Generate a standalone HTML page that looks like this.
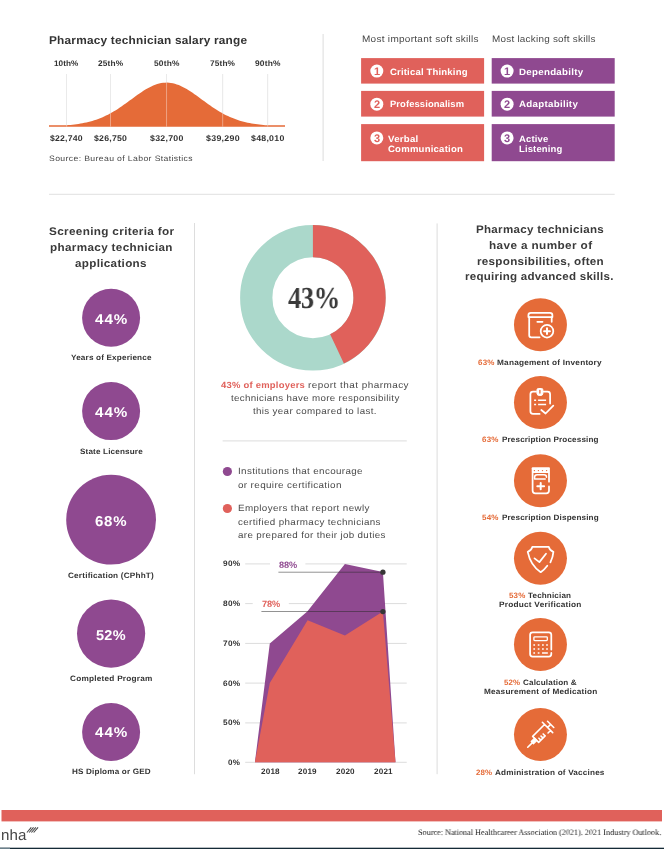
<!DOCTYPE html>
<html><head><meta charset="utf-8"><title>Pharmacy technician infographic</title>
<style>
html,body{margin:0;padding:0;background:#fff;}
body{width:664px;height:849px;position:relative;overflow:hidden;font-family:"Liberation Sans",sans-serif;}
.t{position:absolute;will-change:transform;text-rendering:geometricPrecision;white-space:pre;margin:0;padding:0;}
svg{position:absolute;left:0;top:0;}
</style></head><body>
<svg width="664" height="849" viewBox="0 0 664 849">
<rect x="322.6" y="34" width="1" height="127" fill="#dddddd"/>
<rect x="49" y="193.8" width="565.7" height="1" fill="#e0e0e0"/>
<rect x="194" y="223" width="1" height="551.2" fill="#dddddd"/>
<rect x="436.6" y="223.4" width="1" height="550.8" fill="#dddddd"/>
<rect x="222.6" y="440.4" width="184.2" height="1" fill="#dddddd"/>
<rect x="66.19999999999999" y="74" width="0.8" height="52.7" fill="#d6d6d6"/>
<rect x="110.1" y="74" width="0.8" height="52.7" fill="#d6d6d6"/>
<rect x="166.2" y="74" width="0.8" height="52.7" fill="#d6d6d6"/>
<rect x="222.29999999999998" y="74" width="0.8" height="52.7" fill="#d6d6d6"/>
<rect x="267.3" y="74" width="0.8" height="52.7" fill="#d6d6d6"/>
<path d="M49.0 126.7 L49.0 125.30 L51.0 125.30 L52.9 125.30 L54.9 125.30 L56.9 125.30 L58.8 125.30 L60.8 125.30 L62.8 125.30 L64.7 125.30 L66.7 125.22 L68.7 125.06 L70.6 124.88 L72.6 124.67 L74.6 124.44 L76.5 124.19 L78.5 123.91 L80.5 123.60 L82.4 123.25 L84.4 122.87 L86.4 122.45 L88.3 121.99 L90.3 121.49 L92.3 120.94 L94.2 120.34 L96.2 119.69 L98.2 118.99 L100.1 118.23 L102.1 117.42 L104.1 116.55 L106.0 115.62 L108.0 114.64 L110.0 113.59 L111.9 112.49 L113.9 111.34 L115.9 110.13 L117.8 108.88 L119.8 107.58 L121.8 106.24 L123.7 104.86 L125.7 103.46 L127.7 102.03 L129.6 100.59 L131.6 99.15 L133.6 97.70 L135.5 96.27 L137.5 94.86 L139.5 93.48 L141.4 92.14 L143.4 90.85 L145.4 89.62 L147.3 88.46 L149.3 87.39 L151.3 86.40 L153.2 85.52 L155.2 84.74 L157.2 84.07 L159.1 83.52 L161.1 83.10 L163.1 82.80 L165.0 82.64 L167.0 82.60 L169.0 82.70 L170.9 82.94 L172.9 83.30 L174.9 83.79 L176.8 84.39 L178.8 85.12 L180.8 85.96 L182.7 86.89 L184.7 87.93 L186.7 89.04 L188.6 90.24 L190.6 91.50 L192.6 92.81 L194.5 94.17 L196.5 95.57 L198.5 97.00 L200.4 98.44 L202.4 99.88 L204.4 101.33 L206.3 102.76 L208.3 104.18 L210.3 105.57 L212.2 106.93 L214.2 108.25 L216.2 109.52 L218.1 110.75 L220.1 111.93 L222.1 113.06 L224.0 114.13 L226.0 115.14 L228.0 116.10 L229.9 117.00 L231.9 117.84 L233.9 118.62 L235.8 119.35 L237.8 120.03 L239.8 120.65 L241.7 121.22 L243.7 121.75 L245.7 122.23 L247.6 122.67 L249.6 123.07 L251.6 123.43 L253.5 123.76 L255.5 124.06 L257.5 124.32 L259.4 124.56 L261.4 124.78 L263.4 124.97 L265.3 125.14 L267.3 125.30 L269.3 125.30 L271.2 125.30 L273.2 125.30 L275.2 125.30 L277.1 125.30 L279.1 125.30 L281.1 125.30 L283.0 125.30 L285.0 125.30 L285.0 126.7 Z" fill="#e56b38"/>
<rect x="66.14999999999999" y="74" width="0.9" height="52.7" fill="#fff" opacity="0.42"/>
<rect x="110.05" y="74" width="0.9" height="52.7" fill="#fff" opacity="0.42"/>
<rect x="166.15" y="74" width="0.9" height="52.7" fill="#fff" opacity="0.42"/>
<rect x="222.25" y="74" width="0.9" height="52.7" fill="#fff" opacity="0.42"/>
<rect x="267.25" y="74" width="0.9" height="52.7" fill="#fff" opacity="0.42"/>
<rect x="361.1" y="58.1" width="123" height="25.5" fill="#e0615b"/>
<rect x="361.1" y="90.9" width="123" height="25.7" fill="#e0615b"/>
<rect x="361.1" y="124.1" width="123" height="37.1" fill="#e0615b"/>
<rect x="491.7" y="58.1" width="123" height="25.5" fill="#8f4990"/>
<rect x="491.7" y="90.9" width="123" height="25.7" fill="#8f4990"/>
<rect x="491.7" y="124.1" width="123" height="37.1" fill="#8f4990"/>
<circle cx="376.8" cy="71.1" r="6.5" fill="#fff"/>
<circle cx="376.8" cy="104.2" r="6.5" fill="#fff"/>
<circle cx="376.8" cy="137.9" r="6.5" fill="#fff"/>
<circle cx="507.1" cy="71.1" r="6.5" fill="#fff"/>
<circle cx="507.1" cy="104.2" r="6.5" fill="#fff"/>
<circle cx="507.1" cy="137.9" r="6.5" fill="#fff"/>
<circle cx="111.1" cy="317.8" r="29" fill="#8f4990"/>
<circle cx="111.1" cy="411.1" r="29" fill="#8f4990"/>
<circle cx="111.1" cy="519.7" r="44.9" fill="#8f4990"/>
<circle cx="111.1" cy="633.6" r="34.1" fill="#8f4990"/>
<circle cx="111.1" cy="732" r="29" fill="#8f4990"/>
<circle cx="312.9" cy="297.7" r="56.65" fill="none" stroke="#abd8cb" stroke-width="32.3"/>
<path d="M312.9 224.89999999999998 A72.8 72.8 0 0 1 343.90 363.57 L330.14 334.35 A40.5 40.5 0 0 0 312.9 257.2 Z" fill="#e0615b"/>
<circle cx="227.4" cy="471.5" r="4.6" fill="#8f4990"/>
<circle cx="227.4" cy="508.5" r="4.6" fill="#e0615b"/>
<rect x="245.2" y="563.4" width="161.5" height="1" fill="#dcdcdc"/>
<rect x="245.2" y="603.1" width="161.5" height="1" fill="#dcdcdc"/>
<rect x="245.2" y="642.9" width="161.5" height="1" fill="#dcdcdc"/>
<rect x="245.2" y="682.6" width="161.5" height="1" fill="#dcdcdc"/>
<rect x="245.2" y="722.4" width="161.5" height="1" fill="#dcdcdc"/>
<rect x="245.2" y="761.8" width="161.5" height="1" fill="#dcdcdc"/>
<rect x="270" y="560" width="35.4" height="8" fill="#fff"/>
<rect x="252.7" y="599.6" width="36.1" height="8" fill="#fff"/>
<polygon points="254.9,762.3 269.8,643.4 307.3,611.6 344.9,563.9 382.9,571.9 395.5,762.3" fill="#8f4990"/>
<polygon points="254.9,762.3 269.8,683.1 307.6,620.3 344.9,635.4 382.9,611.6 395.5,762.3" fill="#e0615b"/>
<rect x="278.4" y="571.75" width="104.5" height="0.85" fill="#2a2a2a" opacity="0.6"/>
<rect x="261.4" y="611.0" width="121.5" height="0.85" fill="#2a2a2a" opacity="0.6"/>
<circle cx="382.9" cy="572.2" r="2.65" fill="#363636"/>
<circle cx="382.9" cy="611.6" r="2.65" fill="#363636"/>
<circle cx="540.45" cy="324.8" r="26.5" fill="#e56b38"/>
<circle cx="540.45" cy="402.5" r="26.5" fill="#e56b38"/>
<circle cx="540.45" cy="480.7" r="26.5" fill="#e56b38"/>
<circle cx="540.45" cy="558.3" r="26.5" fill="#e56b38"/>
<circle cx="540.45" cy="644.4" r="26.5" fill="#e56b38"/>
<circle cx="540.45" cy="734.6" r="26.5" fill="#e56b38"/>
<g fill="none" stroke="#fff" stroke-width="1.75" stroke-linecap="round" stroke-linejoin="round">
<!-- 1 inventory box -->
<path d="M528.4 317 V315.3 Q528.4 312.9 530.8 312.9 H550 Q552.4 312.9 552.4 315.3 V317 Z"/>
<path d="M529.2 317 V335.3 Q529.2 337.3 531.2 337.3 H539.6 M551.7 317 V321.8 M537.3 321.8 H542.5"/>
<circle cx="547" cy="331.2" r="6.3"/>
<path d="M544.1 331.2 H549.9 M547 328.3 V334.1" stroke-width="2"/>
<!-- 2 clipboard -->
<path d="M536 391.6 H533 Q530.4 391.6 530.4 394.2 V411.3 Q530.4 413.9 533 413.9 H539.6 M543.6 391.6 H547.5 Q550.1 391.6 550.1 394.2 V403.6"/>
<path d="M536.9 389.9 Q536.9 388.5 538.3 388.5 H541.5 Q542.9 388.5 542.9 389.9 V393.4 Q542.9 395.6 539.9 395.6 Q536.9 395.6 536.9 393.4 Z" fill="#fff" stroke-width="1"/>
<path d="M539.9 390.4 V393.1" stroke="#e56b38" stroke-width="1.3"/>
<path d="M534.1 400.2 H536.1 M538.1 400.2 H546.1 M534.1 404.5 H536.1 M538.1 404.5 H546.1" stroke-width="1.6" stroke-linecap="butt"/>
<path d="M541.3 410 L545.6 413.5 L553.3 405.6"/>
<!-- 3 pill bottle -->
<rect x="531.7" y="467.3" width="18.2" height="5.6" rx="0.9" fill="#fff" stroke="none"/>
<path d="M534.4 470.6 h0.01 M538.4 470.6 h0.01 M542.5 470.6 h0.01 M546.6 470.6 h0.01" stroke="#e56b38" stroke-width="1.4" stroke-linecap="round"/>
<path d="M532.6 472.8 V490.6 Q532.6 493.4 535.4 493.4 H546.2 Q549 493.4 549 490.6 V486.4 M549 472.8 V481.7"/>
<path d="M534.6 478.9 V477.2 Q534.6 474.7 537.1 474.7 H544 Q546.5 474.7 546.5 477.2 M534.6 478.9 H545.2" stroke-width="1.5"/>
<path d="M537.3 486.2 H544.1 M540.7 483.1 V489.3" stroke-width="2"/>
<!-- 4 shield -->
<path d="M547.3 565.7 Q544.6 569.4 540.7 572.2 Q530.6 565.6 527.7 551.9 Q531.4 550.6 532.3 546.9 H548.8 Q549.7 550.6 553.4 551.9 Q553 557.2 550.4 562.3"/>
<path d="M534.5 558.4 L539.4 562.1 L546 553.8"/>
<!-- 5 calculator -->
<path d="M551.3 649.6 V634.8 Q551.3 632.3 548.8 632.3 H532.6 Q530.1 632.3 530.1 634.8 V654.1 Q530.1 656.6 532.6 656.6 H548.8 Q551.3 656.6 551.3 654.1 V652.9"/>
<rect x="533.9" y="636.8" width="13.4" height="3.8" rx="0.8" stroke-width="1.3"/>
<path d="M534.2 645 h0.01 M538.6 645 h0.01 M542.9 645 h0.01 M547 645 h0.01 M534.2 649 h0.01 M538.6 649 h0.01 M542.9 649 h0.01 M547 649 h0.01 M534.2 653 h0.01 M538.6 653 h0.01 M542.9 653 H547" stroke-width="1.7" stroke-linecap="square"/>
<!-- 6 syringe -->
<g transform="translate(540.25 734.75) rotate(-45)" stroke-width="1.6">
<path d="M-17.7 0 H-11.4"/>
<rect x="-11.2" y="-1.6" width="4.7" height="3.2" fill="#fff" stroke-width="1.2"/>
<path d="M10.3 -4.25 H-6.5 V4.25 H2.7 M6.8 4.25 H10.3 M10.3 -7.3 V7.3 M10.3 0 H14.7 M14.7 -4.4 V4.4 M-3.4 4.25 V1.5 M-0.4 4.25 V1.5 M2.6 4.25 V1.5"/>
</g>
</g>

<rect x="1.5" y="810" width="660.5" height="11.4" fill="#e0615b"/>
<rect x="0" y="847.7" width="664" height="1.3" fill="#142a36"/>
<rect x="0" y="847.7" width="10" height="1.3" fill="#6b808b"/>
<path d="M26.9 832.5 L31.299999999999997 827.4" stroke="#444" stroke-width="1.05" fill="none"/>
<path d="M29.15 832.5 L33.55 827.4" stroke="#444" stroke-width="1.05" fill="none"/>
<path d="M31.4 832.5 L35.8 827.4" stroke="#444" stroke-width="1.05" fill="none"/>
<path d="M33.65 832.5 L38.05 827.4" stroke="#444" stroke-width="1.05" fill="none"/>
</svg>
<div class="t" style="left:48.60px;top:34.00px;font-size:11.40px;line-height:15px;letter-spacing:0.201px;color:#333333;font-weight:bold;transform:scaleX(1.0400);transform-origin:0 0;">Pharmacy technician salary range</div>
<div class="t" style="left:53.70px;top:58.00px;font-size:8.10px;line-height:11px;letter-spacing:0.051px;color:#333333;font-weight:bold;transform:scaleX(1.0104);transform-origin:0 0;">10th%</div>
<div class="t" style="left:97.50px;top:58.00px;font-size:8.10px;line-height:11px;letter-spacing:0.141px;color:#333333;font-weight:bold;transform:scaleX(1.0283);transform-origin:0 0;">25th%</div>
<div class="t" style="left:154.00px;top:58.00px;font-size:8.10px;line-height:11px;letter-spacing:0.175px;color:#333333;font-weight:bold;transform:scaleX(1.0349);transform-origin:0 0;">50th%</div>
<div class="t" style="left:210.00px;top:58.00px;font-size:8.10px;line-height:11px;letter-spacing:0.130px;color:#333333;font-weight:bold;transform:scaleX(1.0261);transform-origin:0 0;">75th%</div>
<div class="t" style="left:254.50px;top:58.00px;font-size:8.10px;line-height:11px;letter-spacing:0.186px;color:#333333;font-weight:bold;transform:scaleX(1.0370);transform-origin:0 0;">90th%</div>
<div class="t" style="left:49.80px;top:133.00px;font-size:8.30px;line-height:11px;letter-spacing:0.188px;color:#333333;font-weight:bold;transform:scaleX(1.0442);transform-origin:0 0;">$22,740</div>
<div class="t" style="left:93.60px;top:133.00px;font-size:8.30px;line-height:11px;letter-spacing:0.218px;color:#333333;font-weight:bold;transform:scaleX(1.0510);transform-origin:0 0;">$26,750</div>
<div class="t" style="left:150.00px;top:133.00px;font-size:8.30px;line-height:11px;letter-spacing:0.248px;color:#333333;font-weight:bold;transform:scaleX(1.0576);transform-origin:0 0;">$32,700</div>
<div class="t" style="left:206.00px;top:133.00px;font-size:8.30px;line-height:11px;letter-spacing:0.277px;color:#333333;font-weight:bold;transform:scaleX(1.0643);transform-origin:0 0;">$39,290</div>
<div class="t" style="left:251.40px;top:133.00px;font-size:8.30px;line-height:11px;letter-spacing:0.247px;color:#333333;font-weight:bold;transform:scaleX(1.0576);transform-origin:0 0;">$48,010</div>
<div class="t" style="left:49.40px;top:154.00px;font-size:7.80px;line-height:10px;letter-spacing:0.345px;color:#444;font-weight:normal;transform:scaleX(1.1072);transform-origin:0 0;">Source: Bureau of Labor Statistics</div>
<div class="t" style="left:361.60px;top:33.00px;font-size:9.30px;line-height:12px;letter-spacing:0.267px;color:#484848;font-weight:normal;transform:scaleX(1.0752);transform-origin:0 0;">Most important soft skills</div>
<div class="t" style="left:491.50px;top:33.00px;font-size:9.30px;line-height:12px;letter-spacing:0.226px;color:#484848;font-weight:normal;transform:scaleX(1.0653);transform-origin:0 0;">Most lacking soft skills</div>
<div class="t" style="left:389.50px;top:66.00px;font-size:9.20px;line-height:12px;letter-spacing:0.155px;color:#ffffff;font-weight:bold;transform:scaleX(1.0407);transform-origin:0 0;">Critical Thinking</div>
<div class="t" style="left:389.50px;top:98.00px;font-size:9.20px;line-height:12px;letter-spacing:0.097px;color:#ffffff;font-weight:bold;transform:scaleX(1.0229);transform-origin:0 0;">Professionalism</div>
<div class="t" style="left:388.20px;top:133.00px;font-size:9.20px;line-height:12px;letter-spacing:0.244px;color:#ffffff;font-weight:bold;transform:scaleX(1.0517);transform-origin:0 0;">Verbal</div>
<div class="t" style="left:388.20px;top:143.00px;font-size:9.20px;line-height:12px;letter-spacing:0.202px;color:#ffffff;font-weight:bold;transform:scaleX(1.0412);transform-origin:0 0;">Communication</div>
<div class="t" style="left:518.80px;top:66.00px;font-size:9.20px;line-height:12px;letter-spacing:0.266px;color:#ffffff;font-weight:bold;transform:scaleX(1.0591);transform-origin:0 0;">Dependabilty</div>
<div class="t" style="left:518.80px;top:98.00px;font-size:9.20px;line-height:12px;letter-spacing:0.255px;color:#ffffff;font-weight:bold;transform:scaleX(1.0618);transform-origin:0 0;">Adaptability</div>
<div class="t" style="left:518.80px;top:133.00px;font-size:9.20px;line-height:12px;letter-spacing:0.146px;color:#ffffff;font-weight:bold;transform:scaleX(1.0315);transform-origin:0 0;">Active</div>
<div class="t" style="left:518.80px;top:143.00px;font-size:9.20px;line-height:12px;letter-spacing:0.133px;color:#ffffff;font-weight:bold;transform:scaleX(1.0309);transform-origin:0 0;">Listening</div>
<div class="t" style="left:373.70px;top:65.00px;font-size:11.00px;line-height:14px;letter-spacing:0.000px;color:#e0615b;font-weight:bold;">1</div>
<div class="t" style="left:373.70px;top:98.00px;font-size:11.00px;line-height:14px;letter-spacing:0.000px;color:#e0615b;font-weight:bold;">2</div>
<div class="t" style="left:373.70px;top:132.00px;font-size:11.00px;line-height:14px;letter-spacing:0.000px;color:#e0615b;font-weight:bold;">3</div>
<div class="t" style="left:504.00px;top:65.00px;font-size:11.00px;line-height:14px;letter-spacing:0.000px;color:#8f4990;font-weight:bold;">1</div>
<div class="t" style="left:504.00px;top:98.00px;font-size:11.00px;line-height:14px;letter-spacing:0.000px;color:#8f4990;font-weight:bold;">2</div>
<div class="t" style="left:504.00px;top:132.00px;font-size:11.00px;line-height:14px;letter-spacing:0.000px;color:#8f4990;font-weight:bold;">3</div>
<div class="t" style="left:48.60px;top:225.00px;font-size:11.00px;line-height:14px;letter-spacing:0.310px;color:#3a3a3a;font-weight:bold;transform:scaleX(1.0678);transform-origin:0 0;">Screening criteria for</div>
<div class="t" style="left:49.50px;top:241.00px;font-size:11.00px;line-height:14px;letter-spacing:0.327px;color:#3a3a3a;font-weight:bold;transform:scaleX(1.0623);transform-origin:0 0;">pharmacy technician</div>
<div class="t" style="left:75.00px;top:257.00px;font-size:11.00px;line-height:14px;letter-spacing:0.299px;color:#3a3a3a;font-weight:bold;transform:scaleX(1.0596);transform-origin:0 0;">applications</div>
<div class="t" style="left:94.80px;top:311.00px;font-size:14.20px;line-height:18px;letter-spacing:0.899px;color:#ffffff;font-weight:bold;transform:scaleX(1.0727);transform-origin:0 0;">44%</div>
<div class="t" style="left:94.80px;top:404.00px;font-size:14.20px;line-height:18px;letter-spacing:0.899px;color:#ffffff;font-weight:bold;transform:scaleX(1.0727);transform-origin:0 0;">44%</div>
<div class="t" style="left:94.60px;top:513.00px;font-size:14.20px;line-height:18px;letter-spacing:0.719px;color:#ffffff;font-weight:bold;transform:scaleX(1.0589);transform-origin:0 0;">68%</div>
<div class="t" style="left:95.90px;top:627.00px;font-size:14.20px;line-height:18px;letter-spacing:0.269px;color:#ffffff;font-weight:bold;transform:scaleX(1.0227);transform-origin:0 0;">52%</div>
<div class="t" style="left:94.80px;top:724.00px;font-size:14.20px;line-height:18px;letter-spacing:0.899px;color:#ffffff;font-weight:bold;transform:scaleX(1.0727);transform-origin:0 0;">44%</div>
<div class="t" style="left:70.60px;top:353.00px;font-size:7.80px;line-height:10px;letter-spacing:0.159px;color:#333333;font-weight:bold;transform:scaleX(1.0455);transform-origin:0 0;">Years of Experience</div>
<div class="t" style="left:79.50px;top:447.00px;font-size:7.80px;line-height:10px;letter-spacing:0.149px;color:#333333;font-weight:bold;transform:scaleX(1.0423);transform-origin:0 0;">State Licensure</div>
<div class="t" style="left:68.00px;top:571.00px;font-size:7.80px;line-height:10px;letter-spacing:0.176px;color:#333333;font-weight:bold;transform:scaleX(1.0529);transform-origin:0 0;">Certification (CPhhT)</div>
<div class="t" style="left:69.80px;top:674.00px;font-size:7.80px;line-height:10px;letter-spacing:0.221px;color:#333333;font-weight:bold;transform:scaleX(1.0554);transform-origin:0 0;">Completed Program</div>
<div class="t" style="left:71.80px;top:767.00px;font-size:7.80px;line-height:10px;letter-spacing:0.164px;color:#333333;font-weight:bold;transform:scaleX(1.0424);transform-origin:0 0;">HS Diploma or GED</div>
<div class="t" style="left:287.70px;top:278.00px;font-size:30.50px;line-height:40px;letter-spacing:-0.500px;color:#3a3a3a;font-weight:bold;transform:scaleX(0.8700);transform-origin:0 0;font-family:'Liberation Serif',serif;">43%</div>
<div class="t" style="left:221.10px;top:379.00px;font-size:9.00px;line-height:12px;letter-spacing:0.218px;color:#e0615b;font-weight:bold;transform:scaleX(1.0501);transform-origin:0 0;">43% of employers</div>
<div class="t" style="left:308.00px;top:379.00px;font-size:9.00px;line-height:12px;letter-spacing:0.416px;color:#4a4a4a;font-weight:normal;transform:scaleX(1.1062);transform-origin:0 0;">report that pharmacy</div>
<div class="t" style="left:230.70px;top:392.00px;font-size:9.00px;line-height:12px;letter-spacing:0.305px;color:#4a4a4a;font-weight:normal;transform:scaleX(1.0840);transform-origin:0 0;">technicians have more responsibility</div>
<div class="t" style="left:253.00px;top:405.00px;font-size:9.00px;line-height:12px;letter-spacing:0.309px;color:#4a4a4a;font-weight:normal;transform:scaleX(1.0864);transform-origin:0 0;">this year compared to last.</div>
<div class="t" style="left:237.60px;top:465.00px;font-size:9.00px;line-height:12px;letter-spacing:0.329px;color:#4a4a4a;font-weight:normal;transform:scaleX(1.0917);transform-origin:0 0;">Institutions that encourage</div>
<div class="t" style="left:237.60px;top:479.00px;font-size:9.00px;line-height:12px;letter-spacing:0.330px;color:#4a4a4a;font-weight:normal;transform:scaleX(1.0985);transform-origin:0 0;">or require certification</div>
<div class="t" style="left:237.60px;top:502.00px;font-size:9.00px;line-height:12px;letter-spacing:0.344px;color:#4a4a4a;font-weight:normal;transform:scaleX(1.0906);transform-origin:0 0;">Employers that report newly</div>
<div class="t" style="left:237.60px;top:516.00px;font-size:9.00px;line-height:12px;letter-spacing:0.333px;color:#4a4a4a;font-weight:normal;transform:scaleX(1.0902);transform-origin:0 0;">certified pharmacy technicians</div>
<div class="t" style="left:237.60px;top:529.00px;font-size:9.00px;line-height:12px;letter-spacing:0.307px;color:#4a4a4a;font-weight:normal;transform:scaleX(1.0886);transform-origin:0 0;">are prepared for their job duties</div>
<div class="t" style="left:222.80px;top:559.00px;font-size:7.90px;line-height:10px;letter-spacing:0.293px;color:#333333;font-weight:bold;transform:scaleX(1.0437);transform-origin:0 0;">90%</div>
<div class="t" style="left:222.80px;top:599.00px;font-size:7.90px;line-height:10px;letter-spacing:0.293px;color:#333333;font-weight:bold;transform:scaleX(1.0437);transform-origin:0 0;">80%</div>
<div class="t" style="left:222.80px;top:639.00px;font-size:7.90px;line-height:10px;letter-spacing:0.293px;color:#333333;font-weight:bold;transform:scaleX(1.0437);transform-origin:0 0;">70%</div>
<div class="t" style="left:222.80px;top:679.00px;font-size:7.90px;line-height:10px;letter-spacing:0.293px;color:#333333;font-weight:bold;transform:scaleX(1.0437);transform-origin:0 0;">60%</div>
<div class="t" style="left:222.80px;top:718.00px;font-size:7.90px;line-height:10px;letter-spacing:0.293px;color:#333333;font-weight:bold;transform:scaleX(1.0437);transform-origin:0 0;">50%</div>
<div class="t" style="left:228.10px;top:758.00px;font-size:7.90px;line-height:10px;letter-spacing:0.177px;color:#333333;font-weight:bold;transform:scaleX(1.0187);transform-origin:0 0;">0%</div>
<div class="t" style="left:260.50px;top:767.00px;font-size:7.90px;line-height:10px;letter-spacing:0.156px;color:#333333;font-weight:bold;transform:scaleX(1.0316);transform-origin:0 0;">2018</div>
<div class="t" style="left:298.00px;top:767.00px;font-size:7.90px;line-height:10px;letter-spacing:0.156px;color:#333333;font-weight:bold;transform:scaleX(1.0316);transform-origin:0 0;">2019</div>
<div class="t" style="left:335.60px;top:767.00px;font-size:7.90px;line-height:10px;letter-spacing:0.156px;color:#333333;font-weight:bold;transform:scaleX(1.0316);transform-origin:0 0;">2020</div>
<div class="t" style="left:373.60px;top:767.00px;font-size:7.90px;line-height:10px;letter-spacing:0.156px;color:#333333;font-weight:bold;transform:scaleX(1.0316);transform-origin:0 0;">2021</div>
<div class="t" style="left:279.00px;top:559.00px;font-size:9.20px;line-height:12px;letter-spacing:-0.095px;color:#8f4990;font-weight:bold;">88%</div>
<div class="t" style="left:262.00px;top:598.00px;font-size:9.20px;line-height:12px;letter-spacing:-0.095px;color:#e0615b;font-weight:bold;">78%</div>
<div class="t" style="left:476.40px;top:223.00px;font-size:11.00px;line-height:14px;letter-spacing:0.273px;color:#3a3a3a;font-weight:bold;transform:scaleX(1.0522);transform-origin:0 0;">Pharmacy technicians</div>
<div class="t" style="left:488.90px;top:239.00px;font-size:11.00px;line-height:14px;letter-spacing:0.361px;color:#3a3a3a;font-weight:bold;transform:scaleX(1.0685);transform-origin:0 0;">have a number of</div>
<div class="t" style="left:476.90px;top:255.00px;font-size:11.00px;line-height:14px;letter-spacing:0.266px;color:#3a3a3a;font-weight:bold;transform:scaleX(1.0599);transform-origin:0 0;">responsibilities, often</div>
<div class="t" style="left:465.30px;top:270.00px;font-size:11.00px;line-height:14px;letter-spacing:0.239px;color:#3a3a3a;font-weight:bold;transform:scaleX(1.0518);transform-origin:0 0;">requiring advanced skills.</div>
<div class="t" style="left:477.90px;top:358.00px;font-size:7.80px;line-height:10px;letter-spacing:0.200px;color:#e56b38;font-weight:bold;transform:scaleX(1.0306);transform-origin:0 0;">63%</div>
<div class="t" style="left:497.30px;top:358.00px;font-size:7.80px;line-height:10px;letter-spacing:0.208px;color:#333333;font-weight:bold;transform:scaleX(1.0564);transform-origin:0 0;">Management of Inventory</div>
<div class="t" style="left:482.40px;top:435.00px;font-size:7.80px;line-height:10px;letter-spacing:0.200px;color:#e56b38;font-weight:bold;transform:scaleX(1.0306);transform-origin:0 0;">63%</div>
<div class="t" style="left:501.80px;top:435.00px;font-size:7.80px;line-height:10px;letter-spacing:0.139px;color:#333333;font-weight:bold;transform:scaleX(1.0403);transform-origin:0 0;">Prescription Processing</div>
<div class="t" style="left:481.90px;top:513.00px;font-size:7.80px;line-height:10px;letter-spacing:0.200px;color:#e56b38;font-weight:bold;transform:scaleX(1.0306);transform-origin:0 0;">54%</div>
<div class="t" style="left:501.60px;top:513.00px;font-size:7.80px;line-height:10px;letter-spacing:0.143px;color:#333333;font-weight:bold;transform:scaleX(1.0415);transform-origin:0 0;">Prescription Dispensing</div>
<div class="t" style="left:509.00px;top:591.00px;font-size:7.80px;line-height:10px;letter-spacing:0.155px;color:#e56b38;font-weight:bold;transform:scaleX(1.0239);transform-origin:0 0;">53%</div>
<div class="t" style="left:528.20px;top:591.00px;font-size:7.80px;line-height:10px;letter-spacing:0.142px;color:#333333;font-weight:bold;transform:scaleX(1.0377);transform-origin:0 0;">Technician</div>
<div class="t" style="left:498.90px;top:600.00px;font-size:7.80px;line-height:10px;letter-spacing:0.207px;color:#333333;font-weight:bold;transform:scaleX(1.0620);transform-origin:0 0;">Product Verification</div>
<div class="t" style="left:503.90px;top:678.00px;font-size:7.80px;line-height:10px;letter-spacing:0.088px;color:#e56b38;font-weight:bold;transform:scaleX(1.0136);transform-origin:0 0;">52%</div>
<div class="t" style="left:523.10px;top:678.00px;font-size:7.80px;line-height:10px;letter-spacing:0.145px;color:#333333;font-weight:bold;transform:scaleX(1.0413);transform-origin:0 0;">Calculation &amp;</div>
<div class="t" style="left:483.50px;top:687.00px;font-size:7.80px;line-height:10px;letter-spacing:0.197px;color:#333333;font-weight:bold;transform:scaleX(1.0538);transform-origin:0 0;">Measurement of Medication</div>
<div class="t" style="left:475.60px;top:768.00px;font-size:7.80px;line-height:10px;letter-spacing:0.110px;color:#e56b38;font-weight:bold;transform:scaleX(1.0170);transform-origin:0 0;">28%</div>
<div class="t" style="left:495.00px;top:768.00px;font-size:7.80px;line-height:10px;letter-spacing:0.168px;color:#333333;font-weight:bold;transform:scaleX(1.0491);transform-origin:0 0;">Administration of Vaccines</div>
<div class="t" style="left:0.90px;top:826.00px;font-size:15.00px;line-height:20px;letter-spacing:0.060px;color:#444;font-weight:normal;transform:scaleX(1.0059);transform-origin:0 0;">nha</div>
<div class="t" style="left:417.90px;top:827.00px;font-size:8.30px;line-height:11px;letter-spacing:0.000px;color:#161616;font-weight:normal;transform:scaleX(0.9841);transform-origin:0 0;font-family:'Liberation Serif',serif;">Source: National Healthcareer Association (2021). 2021 Industry Outlook.</div>
</body></html>
